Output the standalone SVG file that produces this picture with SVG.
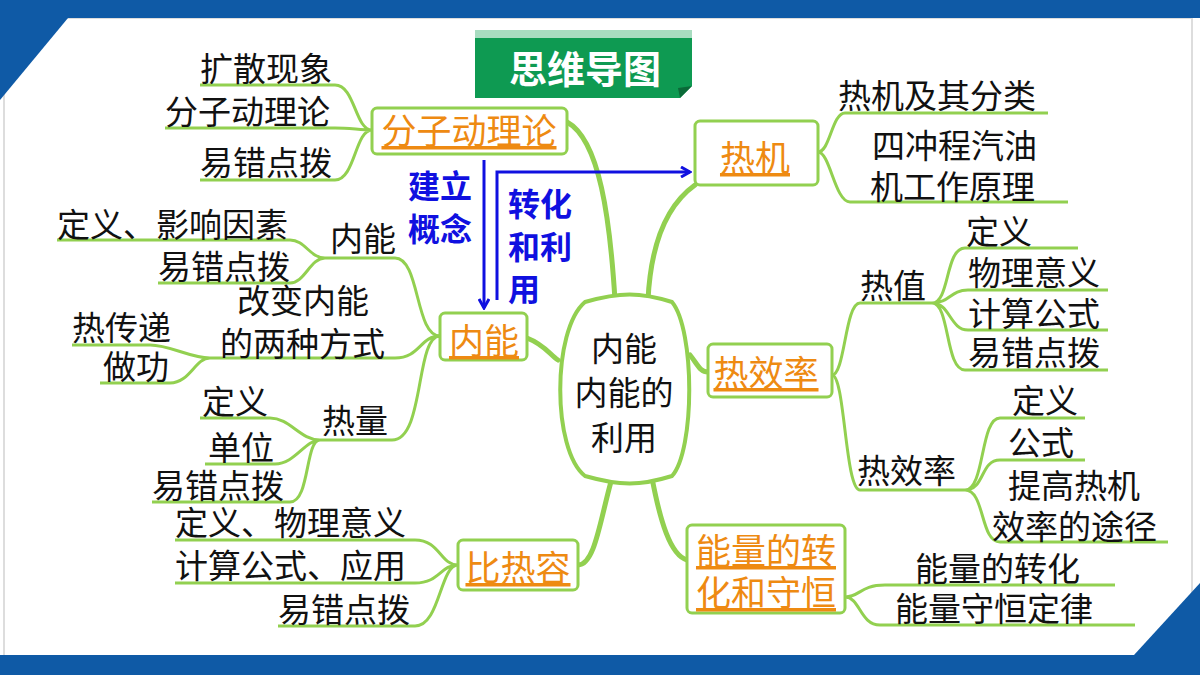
<svg xmlns="http://www.w3.org/2000/svg" width="1200" height="675" viewBox="0 0 1200 675">
<defs>
<style>
.t{font-family:"Noto Sans CJK SC","Liberation Sans",sans-serif;font-size:33px;fill:#111}
.n{font-family:"Noto Sans CJK SC","Liberation Sans",sans-serif;font-size:35px;fill:#ee8a12;text-decoration:underline;text-anchor:middle}
.b{font-family:"Noto Sans CJK SC","Liberation Sans",sans-serif;font-size:32px;font-weight:bold;fill:#1010e0}
.box{fill:#fff;stroke:#92d050;stroke-width:3}
.l{fill:none;stroke:#92d050;stroke-width:3}
.k{fill:none;stroke:#92d050;stroke-width:5;stroke-linecap:round}
.a{fill:none;stroke:#1010e0;stroke-width:3}
</style>
<marker id="ar" markerWidth="12" markerHeight="12" refX="10" refY="6" orient="auto" markerUnits="userSpaceOnUse"><path d="M1,1 L10,6 L1,11" fill="none" stroke="#1010e0" stroke-width="3"/></marker>
</defs>
<rect width="1200" height="675" fill="#fff"/>
<rect x="4" y="18" width="1188" height="640" fill="#fff" stroke="#ddd" stroke-width="2"/>
<rect x="0" y="0" width="1200" height="18" fill="#0f5aa6"/>
<polygon points="0,18 68,18 0,100" fill="#0f5aa6"/>
<rect x="0" y="655" width="1200" height="20" fill="#0f5aa6"/>
<polygon points="1200,583 1134,655 1200,655" fill="#0f5aa6"/>
<g id="title">
<rect x="475" y="30" width="217" height="9" fill="#a8dcc0"/>
<polygon points="475,38 692,38 692,86 680,98 475,98" fill="#0e9a52"/>
<polygon points="692,86 680,98 678,88" fill="#0a6a38"/>
<text x="585" y="83" font-family="Noto Sans CJK SC,sans-serif" font-size="38" font-weight="bold" fill="#fff" text-anchor="middle">思维导图</text>
</g>
<g id="connectors">
<path class="k" d="M567,122 C600,140 610,220 615,300"/>
<path class="k" d="M695,185 C660,210 650,260 648,300"/>
<path class="k" d="M527,338 C545,345 550,355 558,360"/>
<path class="k" d="M690,355 C698,365 700,372 708,372"/>
<path class="k" d="M612,478 C600,520 595,565 578,565"/>
<path class="k" d="M652,478 C660,520 670,555 687,560"/>
<path class="l" d="M200,85 H335 C355,85 355,130 372,130 M165,128 H335 C350,128 360,130 372,130 M200,180 H335 C355,180 355,130 372,130"/>
<path class="l" d="M57,240 H290 C305,240 310,258 325,258 M158,283 H290 C305,283 310,258 325,258 M325,258 H395 C420,258 415,336 440,336"/>
<path class="l" d="M72,345 H150 C170,345 190,358 210,358 M100,383 H170 C190,383 195,358 210,358 M210,358 H395 C420,358 420,336 440,336"/>
<path class="l" d="M200,418 H270 C290,418 300,440 320,440 M205,464 H275 C295,464 305,440 320,440 M152,502 H290 C310,502 305,440 320,440 M320,440 H392 C425,440 415,336 440,336"/>
<path class="l" d="M175,540 H415 C440,540 440,565 458,565 M175,583 H415 C440,583 440,565 458,565 M278,626 H415 C440,626 440,565 458,565"/>
<path class="l" d="M818,152 C830,152 832,113 845,113 H1048 M818,152 C830,152 835,202 850,202 H1068"/>
<path class="l" d="M832,375 C845,375 845,303 860,303 H932 M832,375 C845,375 845,490 860,490 H965"/>
<path class="l" d="M932,303 C950,303 945,248 965,248 H1078 M932,303 C950,303 950,290 968,290 H1108 M932,303 C950,303 950,330 968,330 H1108 M932,303 C950,303 945,370 965,370 H1108"/>
<path class="l" d="M965,490 C985,490 980,418 1000,418 H1085 M965,490 C985,490 980,460 1000,460 H1085 M965,490 C985,490 980,542 1000,542 H1168"/>
<path class="l" d="M845,597 C860,597 860,585 885,585 H1115 M845,597 C860,597 860,625 880,625 H1135"/>
<path class="a" d="M484,160 V308" marker-end="url(#ar)"/>
<path class="a" d="M497,300 V172 H690" marker-end="url(#ar)"/>
</g>
<g id="center">
<path d="M585,302 C620,292 640,292 672,302 C695,330 695,450 672,476 C640,486 620,486 585,476 C552,450 552,330 585,302 Z" fill="#fff" stroke="#92d050" stroke-width="4"/>
<text x="624" y="361" class="t" font-size="36" fill="#333" text-anchor="middle">内能</text>
<text x="624" y="405" class="t" font-size="36" fill="#333" text-anchor="middle">内能的</text>
<text x="624" y="450" class="t" font-size="36" fill="#333" text-anchor="middle">利用</text>
</g>
<g id="n1"><rect class="box" x="372" y="108" width="195" height="46" rx="5"/><text class="n" x="469" y="144">分子动理论</text></g>
<g id="n2"><rect class="box" x="440" y="313" width="87" height="47" rx="5"/><text class="n" x="484" y="354">内能</text></g>
<g id="n3"><rect class="box" x="458" y="540" width="120" height="50" rx="5"/><text class="n" x="518" y="581">比热容</text></g>
<g id="n4"><rect class="box" x="695" y="121" width="123" height="64" rx="5"/><text class="n" x="755" y="171">热机</text></g>
<g id="n5"><rect class="box" x="708" y="344" width="124" height="53" rx="5"/><text class="n" x="766" y="386">热效率</text></g>
<g id="n6"><rect class="box" x="687" y="525" width="158" height="88" rx="5"/><text class="n" x="766" y="564">能量的转</text><text class="n" x="766" y="606">化和守恒</text></g>
<g id="labels">
<text class="t" x="200" y="81">扩散现象</text>
<text class="t" x="165" y="124">分子动理论</text>
<text class="t" x="200" y="175">易错点拨</text>
<text class="t" x="57" y="237">定义、影响因素</text>
<text class="t" x="330" y="251">内能</text>
<text class="t" x="158" y="279">易错点拨</text>
<text class="t" x="237" y="313">改变内能</text>
<text class="t" x="220" y="356">的两种方式</text>
<text class="t" x="72" y="340">热传递</text>
<text class="t" x="103" y="379">做功</text>
<text class="t" x="202" y="414">定义</text>
<text class="t" x="322" y="433">热量</text>
<text class="t" x="208" y="460">单位</text>
<text class="t" x="152" y="498">易错点拨</text>
<text class="t" x="175" y="535">定义、物理意义</text>
<text class="t" x="175" y="578">计算公式、应用</text>
<text class="t" x="278" y="622">易错点拨</text>
<text class="t" x="838" y="108">热机及其分类</text>
<text class="t" x="872" y="158">四冲程汽油</text>
<text class="t" x="870" y="199">机工作原理</text>
<text class="t" x="860" y="298">热值</text>
<text class="t" x="966" y="244">定义</text>
<text class="t" x="968" y="285">物理意义</text>
<text class="t" x="968" y="326">计算公式</text>
<text class="t" x="968" y="365">易错点拨</text>
<text class="t" x="857" y="483">热效率</text>
<text class="t" x="1012" y="413">定义</text>
<text class="t" x="1008" y="455">公式</text>
<text class="t" x="1008" y="498">提高热机</text>
<text class="t" x="992" y="539">效率的途径</text>
<text class="t" x="915" y="581">能量的转化</text>
<text class="t" x="895" y="621">能量守恒定律</text>
<text class="b" x="408" y="198">建立</text>
<text class="b" x="408" y="241">概念</text>
<text class="b" x="508" y="216">转化</text>
<text class="b" x="508" y="259">和利</text>
<text class="b" x="508" y="301">用</text>
</g>
</svg>
